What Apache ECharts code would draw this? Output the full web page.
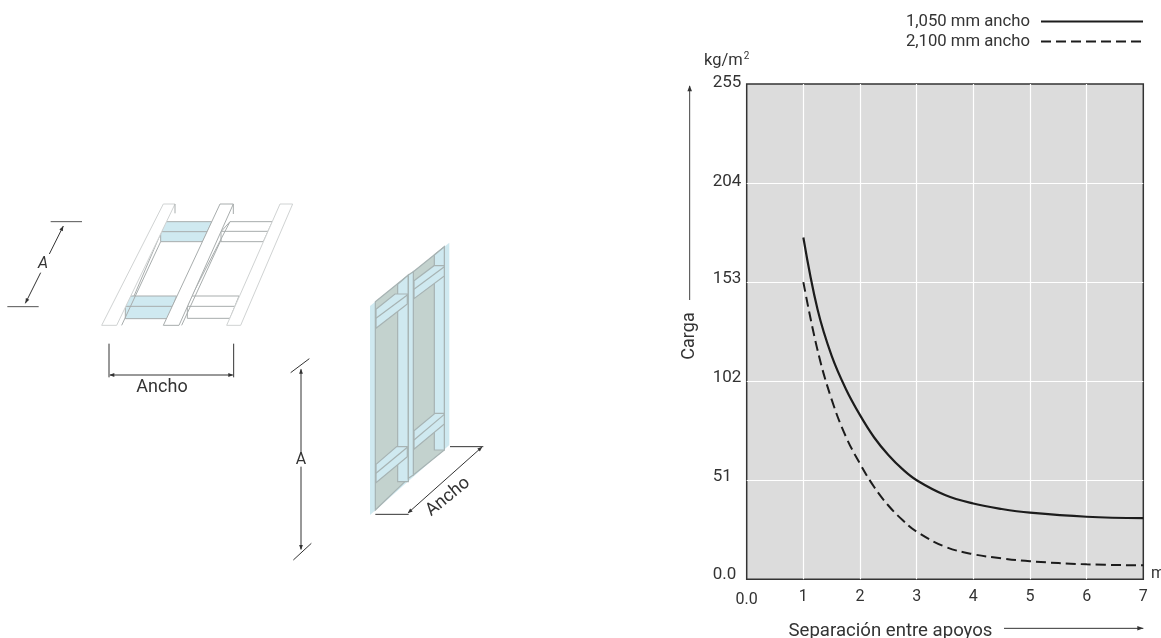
<!DOCTYPE html>
<html><head><meta charset="utf-8">
<style>html,body{margin:0;padding:0;background:#fff;overflow:hidden}#c{width:1161px;height:638px}</style>
<script src="https://cdn.jsdelivr.net/npm/echarts@6/dist/echarts.min.js"></script>
</head><body><div id="c"></div>
<script>
const xTicks = ['0.0','1','2','3','4','5','6','7'];
const yTicks = ['0.0','51','102','153','204','255'];
const nameSolid = '1,050 mm ancho';
const nameDashed = '2,100 mm ancho';
const spanSolid = [1,1.25,1.5,1.75,2,2.25,2.5,2.75,3,3.5,4,4.5,5,6,7];
const loadSolid = [176,139,115,98,84.5,73,64,56.7,51,43.4,39,36.2,34.3,32.2,31.5];
const spanDashed = [1,1.25,1.5,1.75,2,2.25,2.5,2.75,3,3.5,4,4.5,5,6,7];
const loadDashed = [153,118,92.5,73.5,59.5,47.5,38,30.5,24.5,16.8,12.9,10.8,9.3,7.7,7.2];

const FONT = 'Roboto, sans-serif';
const INK = '#333';
const g = [];
// drawing helpers: coordinates are given in a local 3x space with an origin
const at = (o, p) => p.map(q => [o[0] + q[0] / 3, o[1] + q[1] / 3]);
function poly(o, p, fill, stroke, w) {
  g.push({type:'polygon', silent:true, shape:{points:at(o,p)}, style:{fill:fill||'none', stroke:stroke||'none', lineWidth:w||1}});
}
function line(o, a, b, stroke, w) {
  g.push({type:'polyline', silent:true, shape:{points:at(o,[a,b])}, style:{fill:'none', stroke:stroke||INK, lineWidth:w||1}});
}
function head(o, tip, from, size) {
  const [t] = at(o,[tip]), [f] = at(o,[from]);
  const d = Math.hypot(t[0]-f[0], t[1]-f[1]), ux=(t[0]-f[0])/d, uy=(t[1]-f[1])/d, s=size||5;
  g.push({type:'polygon', silent:true, shape:{points:[t,[t[0]-ux*s-uy*s*0.38,t[1]-uy*s+ux*s*0.38],[t[0]-ux*s+uy*s*0.38,t[1]-uy*s-ux*s*0.38]]}, style:{fill:INK}});
}
function label(x, y, text, size, rot, extra) {
  g.push({type:'text', silent:true, x, y, rotation:rot||0, style:Object.assign({text, fill:INK, font:(size||16)+'px '+FONT, textAlign:'center', textVerticalAlign:'middle'}, extra||{})});
}

// roof sketch
const o1 = [0,190], GR = '#a8adad', LG = '#d0d3d3', BL = '#cfe9f0';
poly(o1,[[497,95],[636,95],[608,155],[482,155],[482,125]],BL,GR,1);
line(o1,[482,125],[622,125],GR,1);
poly(o1,[[387,318],[530,318],[503,386],[376,386],[376,349]],BL,GR,1);
line(o1,[376,349],[517,349],GR,1);
poly(o1,[[690,95],[817,95],[790,155],[663,155],[663,125]],'#fff',GR,1);
line(o1,[663,124],[804,124],GR,1);
poly(o1,[[575,318],[717,318],[690,385],[562,385],[562,349]],'#fff',GR,1);
line(o1,[562,349],[703,349],GR,1);
line(o1,[482,155],[365,406],GR,1);
line(o1,[495,100],[402,318],GR,1);
line(o1,[663,150],[545,406],GR,1);
line(o1,[690,95],[575,318],GR,1);
poly(o1,[[490,42],[525,42],[350,406],[305,406]],'#fff',LG,1);
poly(o1,[[660,42],[700,42],[537,406],[490,406]],'#fff',GR,1);
poly(o1,[[840,42],[878,42],[722,406],[680,406]],'#fff',LG,1);
line(o1,[525,42],[525,70],GR,1);
line(o1,[700,42],[700,72],GR,1);
line(o1,[152,95],[246,95],'#555',1);
line(o1,[22,350],[116,350],'#555',1);
line(o1,[190,108],[148,192],INK,1); head(o1,[190,108],[148,192],5);
line(o1,[122,248],[76,340],INK,1); head(o1,[76,340],[122,248],5);
label(43,264,'A',16,0,{font:'italic 16px '+FONT});
line(o1,[327,461],[327,562],INK,1);
line(o1,[701,461],[701,562],INK,1);
line(o1,[330,555],[698,555],INK,1);
head(o1,[328,555],[698,555],5); head(o1,[700,555],[330,555],5);
label(162,387,'Ancho',18);

// wall sketch
const o2 = [280,230], WG = '#c3d2ce', WS = '#a7b3b3';
poly(o2,[[270,228],[508,38],[508,645],[270,855]],BL,'none');
poly(o2,[[286,215],[385,135],[385,745],[286,840]],WG,WS,1.2);
poly(o2,[[400,125],[493,50],[493,660],[400,735]],WG,WS,1.2);
poly(o2,[[353,163],[385,135],[385,755],[353,755]],BL,WS,1.2);
poly(o2,[[463,75],[493,50],[493,660],[463,660]],BL,WS,1.2);
poly(o2,[[385,135],[400,125],[400,735],[385,745]],BL,WS,1.2);
poly(o2,[[288,238],[345,192],[382,192],[382,222],[288,295]],BL,WS,1.2);
line(o2,[288,265],[382,195],WS,1.2);
poly(o2,[[402,152],[462,107],[493,107],[493,138],[402,206]],BL,WS,1.2);
line(o2,[402,178],[493,110],WS,1.2);
poly(o2,[[288,703],[350,650],[382,650],[382,680],[288,758]],BL,WS,1.2);
line(o2,[288,730],[382,652],WS,1.2);
poly(o2,[[402,602],[465,550],[493,550],[493,582],[402,658]],BL,WS,1.2);
line(o2,[402,630],[493,553],WS,1.2);
line(o2,[32,428],[88,386],INK,1);
line(o2,[40,990],[94,940],INK,1);
line(o2,[63,418],[63,670],INK,1); head(o2,[63,416],[63,670],5);
line(o2,[63,710],[63,958],INK,1); head(o2,[63,960],[63,710],5);
label(301,460,'A',16);
line(o2,[510,650],[610,650],INK,1);
line(o2,[286,853],[386,853],INK,1);
line(o2,[385,848],[605,652],INK,1);
head(o2,[383,850],[605,652],5); head(o2,[607,650],[385,848],5);
label(448,497,'Ancho',18,0.68);

// chart annotations
line([0,0],[2069,258],[2069,900],'#444',1); head([0,0],[2069,256],[2069,900],6);
label(689.5,336,'Carga',18,Math.PI/2);
label(890.5,631,'Separación entre apoyos',18.6);
line([0,0],[3012,1885],[3430,1885],INK,1); head([0,0],[3430,1885],[3012,1885],6);
label(1151,574,'m',16,0,{textAlign:'left'});
label(704,61,'kg/m',16.5,0,{textAlign:'left'});
label(746.5,56,'2',10,0);

const chart = echarts.init(document.getElementById('c'), null, {renderer:'canvas'});
chart.setOption({
  animation:false,
  backgroundColor:'#fff',
  legend:{
    orient:'vertical', align:'right', right:12, top:8, itemWidth:102, itemHeight:14, itemGap:3, itemStyle:{opacity:0},
    textStyle:{fontFamily:FONT, fontSize:16.7, color:INK, padding:[0,6,0,0]},
    data:[{name:nameSolid},{name:nameDashed}]
  },
  grid:{left:746.7, right:17.7, top:84, bottom:58.7, show:true, backgroundColor:'#dcdcdc', borderColor:'#333', borderWidth:1.5},
  xAxis:{
    type:'value', min:0, max:7, interval:1,
    axisLine:{show:false}, axisTick:{show:false},
    splitLine:{show:true, showMinLine:false, showMaxLine:false, lineStyle:{color:'#fff', width:1.2}},
    axisLabel:{margin:10, hideOverlap:false, showMinLabel:true, showMaxLabel:true, fontFamily:FONT, fontSize:16, color:INK,
      formatter:v=> v===0 ? '{o|'+xTicks[v]+'}' : xTicks[v],
      rich:{o:{fontFamily:FONT, fontSize:16, color:INK, padding:[3,0,0,0]}}}
  },
  yAxis:{
    type:'value', min:0, max:255, interval:51,
    axisLine:{show:false}, axisTick:{show:false},
    splitLine:{show:true, showMinLine:false, showMaxLine:false, lineStyle:{color:'#fff', width:1.2}},
    axisLabel:{margin:34, align:'left', fontFamily:FONT, fontSize:17, color:INK,
      formatter:v=> '{'+(v===0?'a':v>=204?'c':'b')+'|'+yTicks[v/51]+'}',
      rich:{
        a:{fontFamily:FONT, fontSize:17, color:INK, padding:[0,0,10,0]},
        b:{fontFamily:FONT, fontSize:17, color:INK, padding:[0,0,6,0]},
        c:{fontFamily:FONT, fontSize:17, color:INK, padding:[0,0,2,0]}
      }}
  },
  series:[
    {name:nameSolid, type:'line', smooth:0.4, symbol:'none', data:spanSolid.map((x,i)=>[x,loadSolid[i]]), lineStyle:{color:'#1c1c1c', width:2.2}, itemStyle:{color:'#1c1c1c'}},
    {name:nameDashed, type:'line', smooth:0.4, symbol:'none', data:spanDashed.map((x,i)=>[x,loadDashed[i]]), lineStyle:{color:'#1c1c1c', width:2, type:[10,5]}, itemStyle:{color:'#1c1c1c'}}
  ],
  graphic:{elements:g}
});
</script></body></html>
